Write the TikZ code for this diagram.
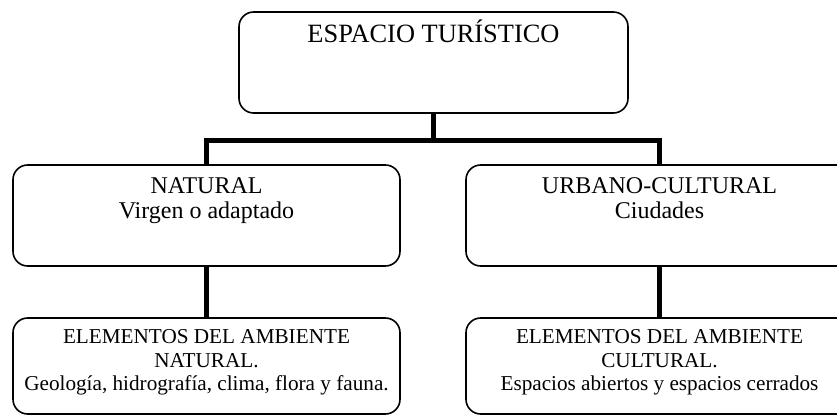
\documentclass[tikz,border=0pt]{standalone}
\usepackage{fontspec}
\setmainfont{Liberation Serif}
\usetikzlibrary{calc}
\tikzset{every picture/.style={line width=0.75pt}}
\tikzset{
  caja/.style={draw, rounded corners=11pt, line width=1.2pt, inner sep=0pt},
  rama/.style={line width=3.8pt},
  texto/.style={align=center, inner sep=0pt}
}

\begin{document}
\begin{tikzpicture}[x=0.75pt,y=0.75pt,yscale=-1,xscale=1]
	\useasboundingbox (0,0) rectangle (837,417);
	\clip (0,0) rectangle (837,417);

	%Cajas
	\node[caja, minimum width=291.75pt, minimum height=75.75pt] (esp) at (433.5,62.5) {};
	\node[caja, minimum width=290.25pt, minimum height=75.75pt] (nat) at (206.5,215.5) {};
	\node[caja, minimum width=290.25pt, minimum height=75.75pt] (urb) at (659.5,215.5) {};
	\node[caja, minimum width=290.25pt, minimum height=72pt] (amn) at (206.5,366) {};
	\node[caja, minimum width=290.25pt, minimum height=72pt] (amc) at (659.5,366) {};

	%Ramas
	\coordinate (bar) at (433.5,140.5);
	\draw[rama] (esp.south) -- (bar);
	\draw[rama] (nat.north) -- (nat.north |- bar) -- (urb.north |- bar) -- (urb.north);
	\draw[rama] (nat.south) -- (amn.north);
	\draw[rama] (urb.south) -- (amc.north);

	% Text Node
	\node[texto, anchor=base, font=\fontsize{19.8}{23}\selectfont] (tEsp) at (433.5,43) {ESPACIO TURÍSTICO};
	% Text Node
	\node[texto, anchor=north, font=\fontsize{18}{18.75}\selectfont] (tNat) at (206.5,177) {NATURAL\\Virgen o adaptado};
	% Text Node
	\node[texto, anchor=north, font=\fontsize{18}{18.75}\selectfont] (tUrb) at (659.5,177) {URBANO-CULTURAL\\Ciudades};
	% Text Node
	\node[texto, anchor=north, font=\fontsize{15.9}{17.6}\selectfont] (tAmn) at (206.5,329) {ELEMENTOS DEL AMBIENTE\\NATURAL.\\Geología, hidrografía, clima, flora y fauna.};
	% Text Node
	\node[texto, anchor=north, font=\fontsize{15.9}{17.6}\selectfont] (tAmc) at (659.5,329) {ELEMENTOS DEL AMBIENTE\\CULTURAL.\\Espacios abiertos y espacios cerrados};

\end{tikzpicture}
\end{document}
